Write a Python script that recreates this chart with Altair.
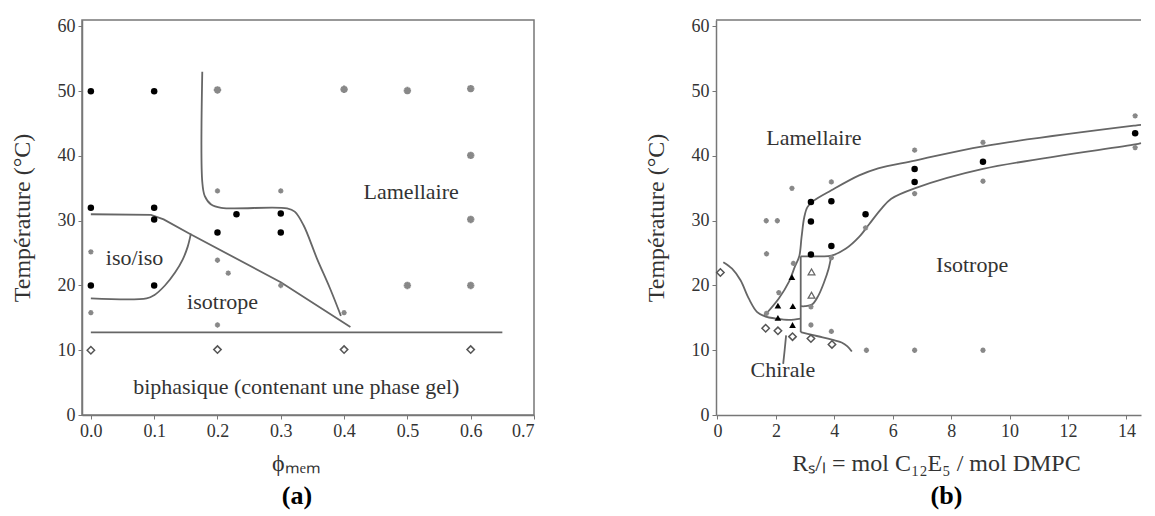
import altair as alt
import pandas as pd

FONT = "Liberation Serif"
TXT = "#333333"
LINE = "#666666"

# ---------------- panel (a) : data ----------------
a_dot_x = [0.0, 0.1, 0.0, 0.1, 0.1, 0.0, 0.1, 0.2, 0.23, 0.3, 0.3]
a_dot_t = [50, 50, 32, 32, 30.2, 20, 20, 28.2, 31, 31.1, 28.2]
a_bigstar_x = [0.2, 0.4, 0.5, 0.6, 0.6, 0.6, 0.5, 0.6]
a_bigstar_t = [50.2, 50.3, 50.1, 50.4, 40.1, 30.2, 20, 20]
a_star_x = [0.0, 0.0, 0.2, 0.3, 0.2, 0.217, 0.3, 0.2, 0.4]
a_star_t = [25.2, 15.8, 34.6, 34.6, 23.9, 21.9, 20, 13.9, 15.8]
a_open_x = [0.0, 0.2, 0.4, 0.6]
a_open_t = [10, 10.1, 10.1, 10.1]

a_gel_x = [0.0, 0.65]
a_gel_t = [12.75, 12.75]
a_iso_x = [0.0, 0.095, 0.115, 0.156, 0.30, 0.41]
a_iso_t = [31.0, 30.9, 30.2, 28.0, 20.5, 13.6]
a_isoiso_x = [0.0, 0.088, 0.1, 0.117, 0.133, 0.145, 0.153, 0.158]
a_isoiso_t = [18.0, 18.0, 18.5, 20.0, 22.0, 24.0, 26.0, 28.0]
a_lam_x = [0.176, 0.176, 0.18, 0.19, 0.206, 0.31, 0.322, 0.336, 0.357, 0.378, 0.395]
a_lam_t = [53.0, 36.0, 33.8, 32.5, 32.0, 31.9, 31.4, 29.3, 24.2, 19.5, 15.3]

a_lab_text = ["Lamellaire", "iso/iso", "isotrope", "biphasique (contenant une phase gel)"]
a_lab_x = [0.506, 0.069, 0.208, 0.3245]
a_lab_t = [34.5, 24.2, 17.5, 4.4]

a_xticks = [0.0, 0.1, 0.2, 0.3, 0.4, 0.5, 0.6, 0.7]
yticks = [0, 10, 20, 30, 40, 50, 60]

# ---------------- panel (b) : data ----------------
b_dot_x = [3.9, 3.2, 3.2, 5.07, 3.9, 3.2, 6.75, 6.75, 9.09, 14.3]
b_dot_t = [33.0, 32.9, 29.9, 31.0, 26.1, 24.8, 38.0, 36.0, 39.1, 43.5]
b_star_x = [1.67, 2.05, 1.68, 2.55, 3.9, 2.6, 2.1, 1.68, 3.2, 3.2, 3.9, 5.07,
            6.75, 6.75, 9.09, 9.09, 14.3, 14.3, 5.1, 6.75, 9.09, 3.9]
b_star_t = [30.0, 30.0, 24.9, 35.0, 36.0, 23.4, 18.9, 15.7, 16.7, 13.9, 12.9, 28.9,
            40.9, 34.2, 42.1, 36.1, 46.2, 41.3, 10.0, 10.0, 10.0, 24.3]
b_tri_x = [2.55, 2.07, 2.58, 2.07, 2.57]
b_tri_t = [21.3, 16.9, 16.8, 15.0, 13.9]
b_otri_x = [3.22, 3.22]
b_otri_t = [22.1, 18.5]
b_open_x = [0.1, 1.65, 2.07, 2.57, 3.2, 3.92]
b_open_t = [22.0, 13.4, 13.0, 12.1, 11.8, 10.9]

b_left_x = [0.2, 0.5, 0.79, 1.07, 1.36, 1.65, 2.0, 2.45, 2.85]
b_left_t = [23.6, 22.6, 20.8, 18.0, 15.9, 15.2, 14.9, 14.7, 14.9]
b_up_x = [1.6, 2.1, 2.45, 2.65, 2.8, 2.88, 2.97, 3.08, 3.3, 3.9, 4.85, 5.5, 6.76, 9.09, 14.3, 14.5]
b_up_t = [15.3, 18.0, 20.6, 22.9, 24.5, 27.5, 30.5, 32.1, 33.1, 34.7, 37.0, 38.1, 39.3, 41.5, 44.7, 44.8]
b_low_x = [2.85, 3.5, 3.9, 4.4, 4.85, 5.2, 5.6, 5.95, 6.75, 9.09, 14.3, 14.5]
b_low_t = [24.5, 24.5, 24.6, 25.7, 27.5, 29.5, 31.8, 33.4, 35.0, 38.0, 41.8, 42.0]
b_tribnd_x = [3.9, 3.8, 3.65, 3.45, 3.25, 3.0, 2.85]
b_tribnd_t = [24.6, 22.5, 20.5, 18.4, 17.1, 16.8, 16.8]
b_chir_x = [2.85, 3.2, 3.6, 3.95, 4.25, 4.45, 4.6]
b_chir_t = [12.8, 12.4, 12.0, 11.6, 11.2, 10.6, 9.8]
b_vert_x = [2.85, 2.85]
b_vert_t = [12.8, 24.5]
b_ptr_x = [2.25, 2.3, 2.35]
b_ptr_t = [7.9, 10.0, 12.3]

b_lab_text = ["Lamellaire", "Isotrope", "Chirale"]
b_lab_x = [3.3, 8.72, 2.24]
b_lab_t = [42.8, 23.2, 6.9]

b_xticks = [0, 2, 4, 6, 8, 10, 12, 14]

# ---------------- helpers ----------------
ASTERISK = "M-1,0L1,0M0,-1L0,1M-0.7,-0.7L0.7,0.7M-0.7,0.7L0.7,-0.7"


def pts(xs, ts):
    return pd.DataFrame({"x": xs, "t": ts})


def curves(named):
    rows = []
    for name, (xs, ts) in named.items():
        for i, (xv, tv) in enumerate(zip(xs, ts)):
            rows.append({"c": name, "i": i, "x": xv, "t": tv})
    return pd.DataFrame(rows)


def make_panel(xdom, xvals, xfmt, xtitle, xtitle_x, width, points, smooth, straight,
               labels, caption, caption_dx, top_rule):
    H = 395
    xs = alt.Scale(domain=xdom, nice=False, zero=False)
    ys = alt.Scale(domain=[0, 61], nice=False, zero=False)
    X = alt.X("x:Q", scale=xs, axis=alt.Axis(
        values=xvals, format=xfmt, title=xtitle, grid=False,
        tickSize=4, tickColor="#777", domainColor="#777", domainWidth=1.5,
        labelFont=FONT, labelFontSize=18, labelColor=TXT, labelPadding=3,
        titleFont=FONT, titleFontSize=24, titleFontWeight="normal", titleColor=TXT,
        titleX=xtitle_x, titleY=48, titleBaseline="middle", titleAlign="center"))
    Y = alt.Y("t:Q", scale=ys, axis=alt.Axis(
        values=yticks, title="Température (°C)", grid=False,
        tickSize=4, tickColor="#777", domainColor="#777", domainWidth=1.5,
        labelFont=FONT, labelFontSize=18, labelColor=TXT, labelPadding=3,
        titleFont=FONT, titleFontSize=24, titleFontWeight="normal", titleColor=TXT,
        titleX=-60, titleY=H / 2, titleBaseline="middle", titleAlign="center",
        titleAngle=270))

    layers = []
    if top_rule:
        layers.append(alt.Chart(pd.DataFrame({"x": [xdom[0]], "x2": [xdom[1]], "t": [61]}))
                      .mark_rule(color="#777", strokeWidth=1.5)
                      .encode(x=X, x2="x2:Q", y=Y))
    layers.append(alt.Chart(curves(straight)).mark_line(color=LINE, strokeWidth=1.8)
                  .encode(x=X, y=Y, detail="c:N", order="i:Q"))
    layers.append(alt.Chart(curves(smooth)).mark_line(color=LINE, strokeWidth=1.8,
                                                       interpolate="catmull-rom")
                  .encode(x=X, y=Y, detail="c:N", order="i:Q"))
    for df, style in points:
        layers.append(alt.Chart(df).mark_point(**style).encode(x=X, y=Y))
    layers.append(alt.Chart(labels).mark_text(font=FONT, fontSize=22, color=TXT)
                  .encode(x=X, y=Y, text="label:N"))
    return alt.layer(*layers).properties(
        width=width, height=H,
        title=alt.TitleParams(caption, orient="bottom", anchor="middle", frame="group",
                              font=FONT, fontSize=26, fontWeight="bold", color="black",
                              offset=8, dx=caption_dx))


DOT = dict(shape="circle", filled=True, color="black", size=42, opacity=1)
BIGSTAR = dict(shape=ASTERISK, filled=False, color="#888888", size=55, strokeWidth=2.2, opacity=1)
STAR = dict(shape=ASTERISK, filled=False, color="#888888", size=28, strokeWidth=1.5, opacity=1)
OPEN = dict(shape="diamond", filled=False, color="#555555", size=55, strokeWidth=1.5, opacity=1)
TRI = dict(shape="triangle-up", filled=True, color="black", size=45, opacity=1)
OTRI = dict(shape="triangle-up", filled=False, color="#666666", size=45, strokeWidth=1.3, opacity=1)

panel_a = make_panel(
    xdom=[-0.014, 0.7], xvals=a_xticks, xfmt=".1f", xtitle="ϕₘₑₘ", xtitle_x=214,
    width=452,
    points=[(pts(a_dot_x, a_dot_t), DOT), (pts(a_bigstar_x, a_bigstar_t), BIGSTAR),
            (pts(a_star_x, a_star_t), STAR), (pts(a_open_x, a_open_t), OPEN)],
    smooth={"isoiso": (a_isoiso_x, a_isoiso_t), "lam": (a_lam_x, a_lam_t)},
    straight={"gel": (a_gel_x, a_gel_t), "iso": (a_iso_x, a_iso_t)},
    labels=pd.DataFrame({"x": a_lab_x, "t": a_lab_t, "label": a_lab_text}),
    caption="(a)", caption_dx=-11, top_rule=False)

panel_b = make_panel(
    xdom=[-0.05, 14.5], xvals=b_xticks, xfmt="d", xtitle="Rₛ/ₗ = mol C₁₂E₅ / mol DMPC",
    xtitle_x=220, width=425,
    points=[(pts(b_star_x, b_star_t), STAR), (pts(b_dot_x, b_dot_t), DOT),
            (pts(b_tri_x, b_tri_t), TRI), (pts(b_otri_x, b_otri_t), OTRI),
            (pts(b_open_x, b_open_t), OPEN)],
    smooth={"left": (b_left_x, b_left_t), "up": (b_up_x, b_up_t), "low": (b_low_x, b_low_t),
            "tri": (b_tribnd_x, b_tribnd_t), "chir": (b_chir_x, b_chir_t)},
    straight={"vert": (b_vert_x, b_vert_t), "ptr": (b_ptr_x, b_ptr_t)},
    labels=pd.DataFrame({"x": b_lab_x, "t": b_lab_t, "label": b_lab_text}),
    caption="(b)", caption_dx=18, top_rule=True).properties(
    view=alt.ViewBackground(strokeOpacity=0))

chart = alt.hconcat(panel_a, panel_b, spacing=182, bounds="flush").properties(
    padding={"left": 1, "top": 8, "right": 0, "bottom": 0},
    background="white",
).configure_view(stroke="#777777", strokeWidth=1.5)

chart.save("out.html", embed_options={"renderer": "svg", "actions": False})
